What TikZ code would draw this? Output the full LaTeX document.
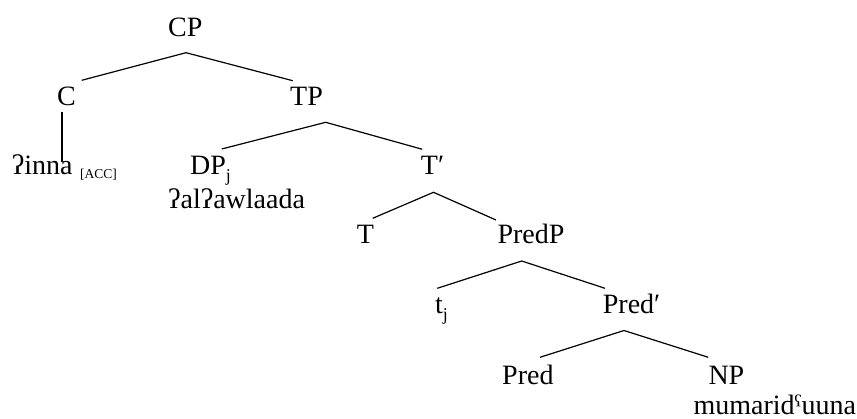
\documentclass[tikz,border=0pt]{standalone}
\usepackage{fontspec}
\setmainfont{Liberation Serif}
\newcommand{\mysub}[1]{\raisebox{-0.24em}{\fontsize{18}{18}\selectfont #1}}
\begin{document}
\begin{tikzpicture}[x=1pt,y=-1pt,
  lab/.style={inner sep=0pt, anchor=base west, font=\fontsize{28}{33}\selectfont},
  acc/.style={inner sep=0pt, anchor=base west, font=\fontsize{13.5}{15}\selectfont},
  edge/.style={line width=1.2pt}]
\useasboundingbox (0,0) rectangle (857,419);
% labels
\node[lab] (CP) at (168,37) {CP};
\node[lab] (C) at (57,106) {C};
\node[lab] (TP) at (290,106) {TP};
\node[lab] (inna) at (11.7,175) {ʔinna};
\node[acc] (acc) at (80,179) {[ACC]};
\node[lab] (DP) at (190,175) {DP\mysub{j}};
\node[lab] (awlaada) at (168,209) {ʔalʔawlaada};
\node[lab] (Tbar) at (420.7,175) {T′};
\node[lab] (T) at (356.7,244) {T};
\node[lab] (PredP) at (497.3,244) {PredP};
\node[lab] (t) at (435,314) {t\mysub{j}};
\node[lab] (Predbar) at (602.7,314) {Pred′};
\node[lab] (Pred) at (502,385) {Pred};
\node[lab] (NP) at (708.3,385) {NP};
\node[lab, text depth=0pt] (mum) at (693.3,414.5) {mumaridˤuuna};
% branch points
\coordinate (cpA) at (186,52.7);
\coordinate (cpL) at (81.7,80.3);
\coordinate (cpR) at (292.7,80.7);
\coordinate (cT) at (62,111.7);
\coordinate (cB) at (62,161.7);
\coordinate (tpA) at (325.7,122.3);
\coordinate (tpL) at (221.7,149);
\coordinate (tpR) at (422.3,149.3);
\coordinate (tbA) at (433.5,192.3);
\coordinate (tbL) at (372.7,218.3);
\coordinate (tbR) at (496,220);
\coordinate (ppA) at (521.7,261);
\coordinate (ppL) at (437.3,288.3);
\coordinate (ppR) at (605,288.3);
\coordinate (pbA) at (624,330.5);
\coordinate (pbL) at (540,357.3);
\coordinate (pbR) at (708.3,357.3);
% connectors
\draw[edge] (cpL) -- (cpA) -- (cpR);
\draw[edge] (cT) -- (cB);
\draw[edge] (tpL) -- (tpA) -- (tpR);
\draw[edge] (tbL) -- (tbA) -- (tbR);
\draw[edge] (ppL) -- (ppA) -- (ppR);
\draw[edge] (pbL) -- (pbA) -- (pbR);
\end{tikzpicture}
\end{document}
